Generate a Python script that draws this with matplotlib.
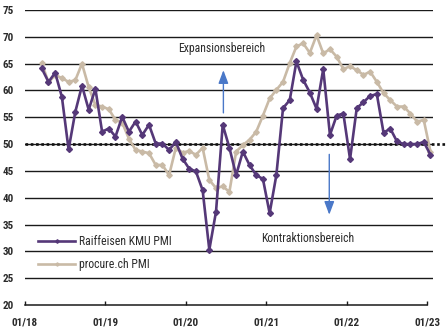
import matplotlib
matplotlib.use("Agg")
import matplotlib.pyplot as plt
from matplotlib import font_manager

# Monthly PMI readings, March 2018 to January 2023
start_month = 2  # months after Jan 2018 (March 2018)
raiffeisen_kmu = [
    64.1, 61.6, 63.3, 58.8, 49.0, 56.0, 60.9, 56.4, 60.3, 52.3,
    52.9, 51.4, 55.1, 52.3, 54.2, 51.7, 53.6, 50.1, 50.1, 48.9, 50.4, 47.3,
    45.4, 44.9, 41.4, 30.3, 37.4, 53.6, 49.3, 44.2, 48.6, 46.1, 44.2, 43.5,
    37.1, 44.2, 56.7, 58.2, 65.4, 62.0, 59.6, 56.6, 64.0, 51.7, 55.3, 55.7,
    47.2, 56.7, 57.8, 59.0, 59.3, 52.1, 52.9, 50.5, 50.0, 50.0, 50.0, 50.4,
    48.0,
]
procure_ch = [
    65.1, 61.5, 62.9, 62.3, 61.6, 61.9, 65.0, 60.6, 57.3, 57.0,
    56.5, 54.5, 54.0, 51.0, 48.9, 48.6, 48.3, 46.1, 46.1, 44.2, 49.3, 48.4,
    48.7, 48.0, 49.3, 43.3, 41.8, 42.1, 41.1, 48.6, 49.8, 50.8, 52.3, 55.3,
    58.5, 60.1, 61.6, 65.1, 68.2, 68.8, 67.0, 70.3, 66.9, 67.7, 66.3, 64.0,
    64.5, 63.8, 62.9, 63.5, 61.6, 59.5, 58.2, 57.0, 57.0, 55.7, 54.2, 54.5,
    48.6,
]
series_names = ["Raiffeisen KMU PMI", "procure.ch PMI"]
tick_labels = ["01/18", "01/19", "01/20", "01/21", "01/22", "01/23"]
y_ticks = list(range(20, 80, 5))
threshold = 50

# Fonts: narrow sans if present
names = {f.name for f in font_manager.fontManager.ttflist}
narrow = None
for cand in ["Liberation Sans Narrow", "DejaVu Sans Condensed", "Roboto Condensed",
             "Open Sans Condensed", "Liberation Sans"]:
    if cand in names:
        narrow = cand
        break
plt.rcParams["font.family"] = [narrow or "DejaVu Sans", "DejaVu Sans"]
plt.rcParams["font.stretch"] = "condensed"

purple = "#553878"
beige = "#c9baa6"
text_col = "#2b2b2b"
arrow_col = "#4a78c8"

fig = plt.figure(figsize=(4.47, 3.34), dpi=100)
ax = fig.add_axes([0.056, 0.087, 0.913, 0.883])

x_pos = [start_month + i + 0.5 for i in range(len(raiffeisen_kmu))]

ax.set_ylim(20, 75)
ax.set_xlim(0, 60.9)
for v in y_ticks[1:]:
    ax.axhline(v, color="#1a1a1a", lw=1.0, zorder=1)

ax.plot([0, 62.6], [threshold, threshold], color="#111111", lw=1.9,
        ls=(0, (1, 1)), zorder=2, clip_on=False)

ax.plot(x_pos, procure_ch, color=beige, lw=1.9, marker="D", ms=2.8,
        mec=beige, mfc=beige, zorder=3, label=series_names[1])
ax.plot(x_pos, raiffeisen_kmu, color=purple, lw=1.9, marker="D", ms=3.0,
        mec=purple, mfc=purple, zorder=4, label=series_names[0])

# Expansion / contraction annotations
ax.annotate("", xy=(29.6, 64.3), xytext=(29.6, 55.3),
            arrowprops=dict(arrowstyle="-|>,head_length=0.8,head_width=0.3",
                            color=arrow_col, lw=1.0), zorder=5)
ax.annotate("", xy=(45.4, 36.3), xytext=(45.4, 48.6),
            arrowprops=dict(arrowstyle="-|>,head_length=0.8,head_width=0.3",
                            color=arrow_col, lw=1.0), zorder=5)
ax.text(29.3, 67.9, "Expansionsbereich", ha="center", va="center",
        fontsize=8.5, color=text_col)
ax.text(42.2, 32.3, "Kontraktionsbereich", ha="center", va="center",
        fontsize=8.5, color=text_col)

# Axes styling
for s in ["top", "right", "left"]:
    ax.spines[s].set_visible(False)
ax.spines["bottom"].set_color("#1a1a1a")
ax.spines["bottom"].set_linewidth(1.1)
ax.spines["bottom"].set_bounds(0, 60)
ax.set_yticks(y_ticks)
ax.set_yticklabels([str(v) for v in y_ticks])
ax.set_xticks([0, 12, 24, 36, 48, 60])
ax.set_xticklabels(tick_labels)
ax.tick_params(axis="y", length=0, pad=8, labelsize=8, labelcolor=text_col)
ax.tick_params(axis="x", direction="in", length=3, width=1.0, pad=9,
               labelsize=8, labelcolor=text_col, color="#1a1a1a")
for lab in ax.get_xticklabels() + ax.get_yticklabels():
    lab.set_fontweight("bold")

handles, labels = ax.get_legend_handles_labels()
leg = ax.legend(handles[::-1], labels[::-1], loc="lower left",
                bbox_to_anchor=(0.005, 0.08), frameon=False, fontsize=8.5,
                handlelength=3.2, handletextpad=0.3, labelspacing=0.8,
                markerscale=0.6)
for t in leg.get_texts():
    t.set_color(text_col)

fig.savefig("out.png", dpi=100)
